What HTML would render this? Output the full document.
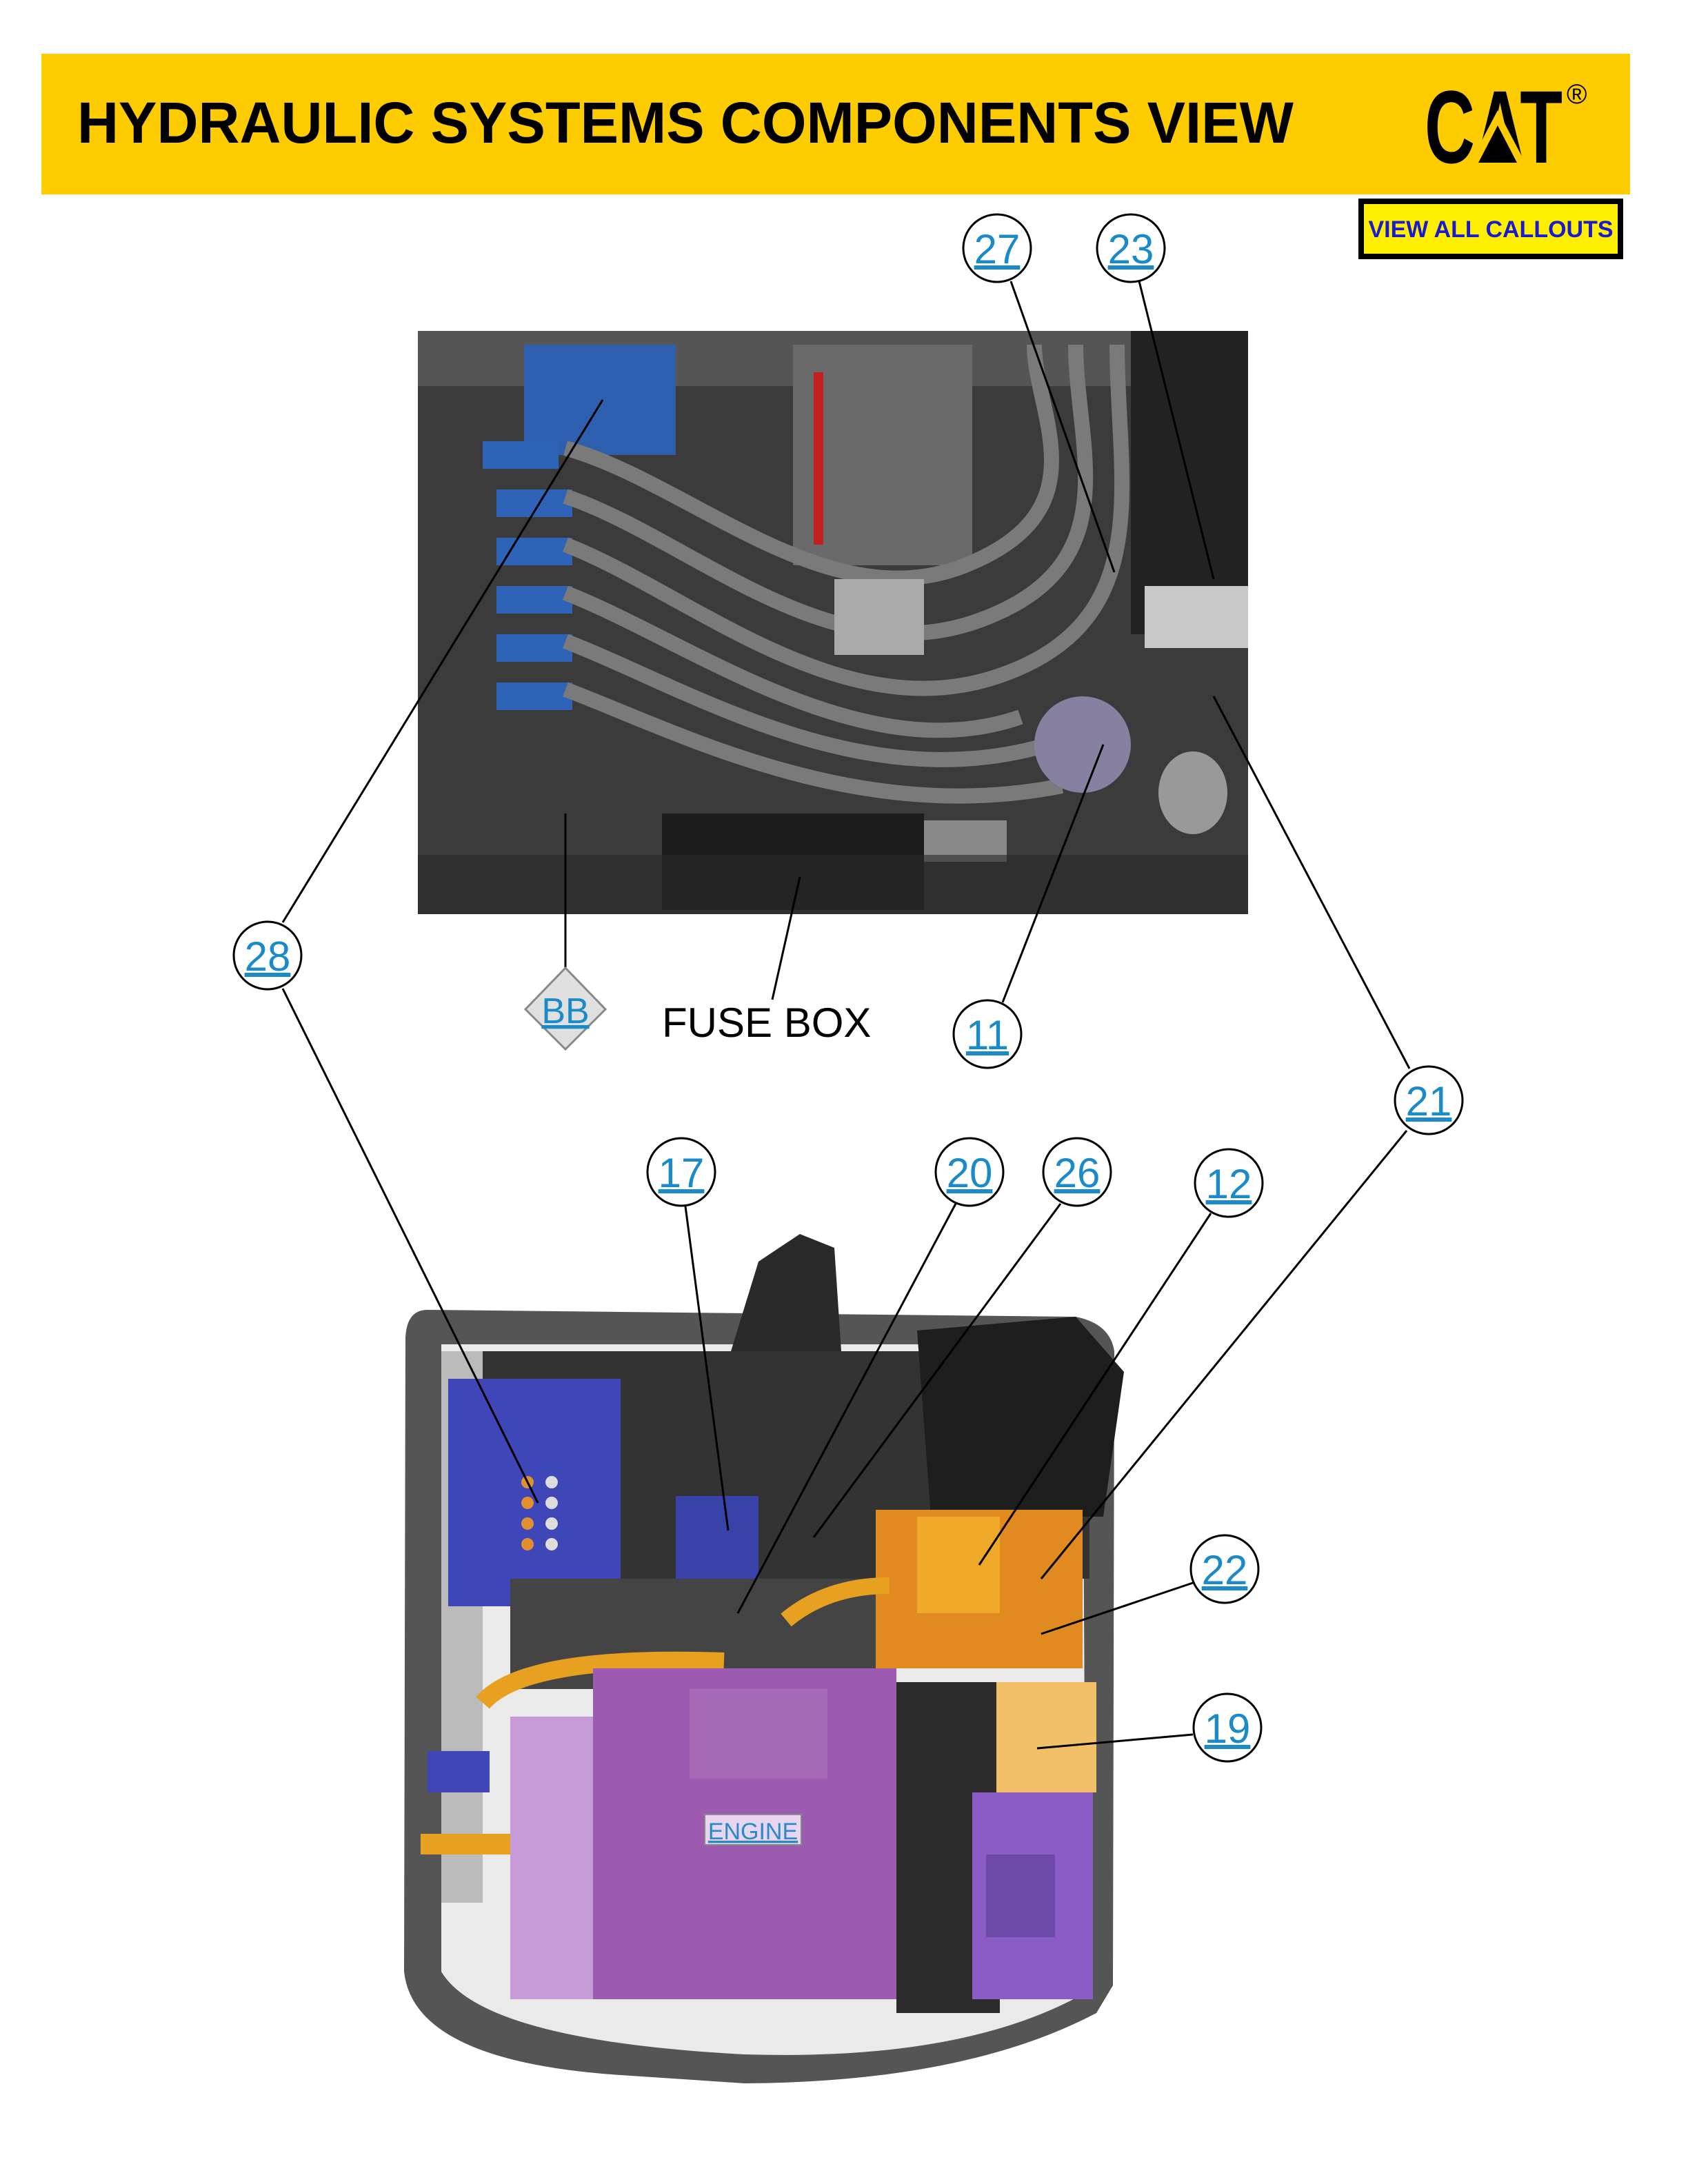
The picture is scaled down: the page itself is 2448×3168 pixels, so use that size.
<!DOCTYPE html>
<html><head><meta charset="utf-8"><style>
html,body{margin:0;padding:0;background:#fff;}
svg{display:block;}
text{font-family:"Liberation Sans",sans-serif;}
</style></head><body>
<svg width="2448" height="3168" viewBox="0 0 2448 3168" xmlns="http://www.w3.org/2000/svg">
<rect width="2448" height="3168" fill="#fff"/>
<!-- header -->
<rect x="60" y="78" width="2304" height="204" fill="#fccc00"/>
<text x="112" y="207" font-size="84" font-weight="bold" fill="#000" textLength="1764" lengthAdjust="spacingAndGlyphs">HYDRAULIC SYSTEMS COMPONENTS VIEW</text>
<text x="2066" y="236" font-size="150" font-weight="bold" fill="#000" textLength="200" lengthAdjust="spacingAndGlyphs">CAT</text>
<polygon points="2132,236 2172,160 2212,236" fill="#fccc00"/>
<polygon points="2144,236 2172,182 2200,236" fill="#000"/>
<text x="2272" y="150" font-size="40" fill="#000">®</text>
<!-- button -->
<rect x="1974" y="292" width="376" height="80" fill="#ffef00" stroke="#000" stroke-width="8"/>
<text x="2162" y="344" font-size="34" font-weight="bold" fill="#1a1ad0" text-anchor="middle">VIEW ALL CALLOUTS</text>

<!-- top photo -->
<rect x="606" y="480" width="1204" height="846" fill="#3b3b3b"/>
<rect x="606" y="480" width="1204" height="80" fill="#555"/>
<rect x="1150" y="500" width="260" height="320" fill="#6a6a6a"/>
<rect x="1180" y="540" width="14" height="250" fill="#c02020"/>
<rect x="1640" y="480" width="170" height="440" fill="#222"/>
<rect x="760" y="500" width="220" height="160" fill="#2e5fae"/>
<g fill="#2f63b8">
<rect x="700" y="640" width="110" height="40"/><rect x="720" y="710" width="110" height="40"/>
<rect x="720" y="780" width="110" height="40"/><rect x="720" y="850" width="110" height="40"/>
<rect x="720" y="920" width="110" height="40"/><rect x="720" y="990" width="110" height="40"/>
</g>
<g fill="none" stroke="#7a7a7a" stroke-width="22">
<path d="M820 650 C1000 700 1200 900 1400 820 S1500 600 1500 500"/>
<path d="M820 720 C1000 780 1200 980 1420 900 S1560 650 1560 500"/>
<path d="M820 790 C1000 860 1220 1060 1450 980 S1620 700 1620 500"/>
<path d="M820 860 C1000 930 1250 1120 1480 1040"/>
<path d="M820 930 C1000 1000 1250 1160 1520 1080"/>
<path d="M820 1000 C980 1060 1240 1200 1540 1140"/>
</g>
<rect x="1210" y="840" width="130" height="110" fill="#aaa"/>
<ellipse cx="1570" cy="1080" rx="70" ry="70" fill="#8880a0"/>
<ellipse cx="1730" cy="1150" rx="50" ry="60" fill="#999"/>
<rect x="1660" y="850" width="150" height="90" fill="#c8c8c8"/>
<rect x="960" y="1180" width="380" height="140" fill="#1c1c1c"/>
<rect x="1340" y="1190" width="120" height="60" fill="#888"/>
<rect x="606" y="1240" width="1204" height="86" fill="#2a2a2a" opacity="0.6"/>

<!-- bottom machine -->
<path d="M620 1900 Q590 1900 588 1940 L586 2860 Q600 2990 900 3010 L1080 3022 Q1400 3020 1590 2920 L1614 2880 L1616 1960 Q1610 1920 1560 1910 Z" fill="#555"/>
<path d="M640 1950 L1570 1950 L1575 2890 Q1400 2990 1080 2980 Q700 2960 640 2860 Z" fill="#eaeaea"/>
<polygon points="1060,1960 1100,1830 1160,1790 1210,1810 1220,1960" fill="#2a2a2a"/>
<rect x="700" y="1960" width="880" height="330" fill="#333"/>
<rect x="640" y="1960" width="60" height="800" fill="#bbb"/>
<path d="M1330 1930 L1560 1910 L1630 1990 L1600 2200 L1350 2200 Z" fill="#1e1e1e"/>
<rect x="650" y="2000" width="250" height="330" fill="#3f46b8"/>
<g fill="#e09030"><circle cx="765" cy="2150" r="9"/><circle cx="765" cy="2180" r="9"/><circle cx="765" cy="2210" r="9"/><circle cx="765" cy="2240" r="9"/></g>
<g fill="#ddd"><circle cx="800" cy="2150" r="9"/><circle cx="800" cy="2180" r="9"/><circle cx="800" cy="2210" r="9"/><circle cx="800" cy="2240" r="9"/></g>
<rect x="980" y="2170" width="120" height="140" fill="#3942a8"/>
<rect x="900" y="2330" width="420" height="90" fill="#3a3a3a"/>
<rect x="740" y="2290" width="540" height="160" fill="#444"/>
<rect x="1270" y="2190" width="300" height="230" fill="#e08a20"/>
<rect x="1330" y="2200" width="120" height="140" fill="#f0a828"/>
<path d="M700 2470 Q760 2400 1050 2410" fill="none" stroke="#e8a020" stroke-width="26"/>
<path d="M1140 2350 Q1200 2300 1290 2300" fill="none" stroke="#e8a020" stroke-width="24"/>
<rect x="1300" y="2440" width="150" height="480" fill="#2c2c2c"/>
<rect x="1445" y="2440" width="145" height="160" fill="#f1c069"/>
<rect x="1410" y="2600" width="175" height="300" fill="#8b5cc6"/>
<rect x="1430" y="2690" width="100" height="120" fill="#6e4aa8"/>
<rect x="740" y="2490" width="130" height="410" fill="#c79ad8"/>
<rect x="860" y="2420" width="440" height="480" fill="#9c5ab0"/>
<rect x="1000" y="2450" width="200" height="130" fill="#a868b8"/>
<rect x="620" y="2540" width="90" height="60" fill="#3f46b8"/>
<rect x="610" y="2660" width="130" height="30" fill="#e8a020"/>
<rect x="1022" y="2632" width="140" height="44" fill="#e8d6f0" stroke="#888" stroke-width="2"/>
<text x="1092" y="2668" font-size="34" fill="#2a8ac4" text-anchor="middle" text-decoration="underline">ENGINE</text>

<!-- leader lines -->
<g stroke="#000" stroke-width="3" fill="none">
<line x1="1466" y1="408" x2="1616" y2="830"/>
<line x1="1652" y1="408" x2="1760" y2="840"/>
<line x1="410" y1="1338" x2="874" y2="580"/>
<line x1="410" y1="1434" x2="780" y2="2180"/>
<line x1="820" y1="1410" x2="820" y2="1180"/>
<line x1="1120" y1="1450" x2="1160" y2="1272"/>
<line x1="1454" y1="1454" x2="1600" y2="1080"/>
<line x1="2044" y1="1550" x2="1760" y2="1010"/>
<line x1="2040" y1="1640" x2="1510" y2="2290"/>
<line x1="994" y1="1750" x2="1056" y2="2220"/>
<line x1="1386" y1="1746" x2="1070" y2="2340"/>
<line x1="1538" y1="1746" x2="1180" y2="2230"/>
<line x1="1756" y1="1760" x2="1420" y2="2270"/>
<line x1="1730" y1="2296" x2="1510" y2="2370"/>
<line x1="1730" y1="2516" x2="1504" y2="2536"/>
</g>
<!-- callouts -->
<g fill="#fff" stroke="#000" stroke-width="3">
<circle cx="1446" cy="360" r="49"/><circle cx="1640" cy="360" r="49"/>
<circle cx="388" cy="1386" r="49"/><circle cx="1432" cy="1500" r="49"/>
<circle cx="2072" cy="1596" r="49"/><circle cx="988" cy="1700" r="49"/>
<circle cx="1406" cy="1700" r="49"/><circle cx="1562" cy="1700" r="49"/>
<circle cx="1782" cy="1716" r="49"/><circle cx="1776" cy="2276" r="49"/>
<circle cx="1780" cy="2506" r="49"/>
<polygon points="820,1404 878,1464 820,1522 762,1464" fill="#e0e0e0" stroke="#888"/>
</g>
<g font-size="60" fill="#1a8ac8" text-anchor="middle" text-decoration="underline">
<text x="1446" y="382">27</text><text x="1640" y="382">23</text>
<text x="388" y="1408">28</text><text x="1432" y="1522">11</text>
<text x="2072" y="1618">21</text><text x="988" y="1722">17</text>
<text x="1406" y="1722">20</text><text x="1562" y="1722">26</text>
<text x="1782" y="1738">12</text><text x="1776" y="2298">22</text>
<text x="1780" y="2528">19</text><text x="820" y="1484" font-size="52">BB</text>
</g>
<text x="960" y="1504" font-size="60" fill="#000">FUSE BOX</text>
</svg>
</body></html>
